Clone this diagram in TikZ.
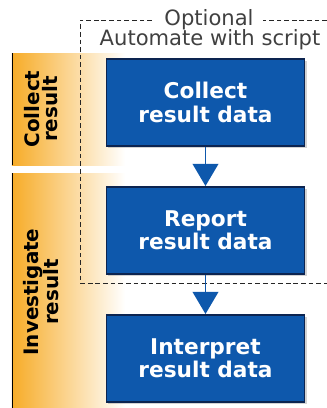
\documentclass[tikz,border=0pt]{standalone}
\usepackage{fontspec}
\setmainfont{DejaVu Sans}
\usetikzlibrary{arrows.meta,shadows}
\definecolor{stepblue}{RGB}{14,88,172}
\definecolor{stepedge}{RGB}{12,36,80}
\definecolor{bandorange}{RGB}{247,172,40}
\begin{document}
\begin{tikzpicture}[x=0.03cm, y=-0.03cm,
    stepbox/.style={draw=stepedge, line width=1.4pt, fill=stepblue, text=white,
      minimum width=5.95cm, minimum height=2.62cm, align=center,
      font=\bfseries\fontsize{18.5}{20}\selectfont,
      drop shadow={shadow xshift=1.8pt, shadow yshift=-1.8pt, opacity=0.35}},
    sidelabel/.style={rotate=90, align=center, font=\bfseries\fontsize{17}{15.5}\selectfont},
    band/.style={left color=bandorange, middle color=bandorange!45, right color=white},
    flow/.style={draw=stepblue, line width=1.6pt, -{Triangle[width=22pt,length=19pt]}}]
  \useasboundingbox (0,0) rectangle (327,408);
  % orange side bands
  \shade[band] (12,53) rectangle (125,165);
  \shade[band] (12,173) rectangle (125,408);
  \draw[line width=0.8pt] (12,53) -- (12,165);
  \draw[line width=0.8pt] (12,173) -- (12,408);
  \node[sidelabel] (collectlbl) at (41,109) {Collect\\result};
  \node[sidelabel] (investlbl) at (41,292) {Investigate\\result};
  % optional part
  \draw[dashed, dash pattern=on 4pt off 2.5pt, line width=0.8pt, black!85]
    (327,20) -- (80,20) -- (80,283) -- (327,283);
  \node[fill=white, inner xsep=8pt, inner ysep=1pt, text=black!75,
    font=\fontsize{18}{20}\selectfont] (optional) at (209,20) {Optional};
  \node[text=black!75, font=\fontsize{18}{20}\selectfont] (automate) at (210,40) {Automate with script};
  % steps
  \foreach \name/\txt/\y in {collect/Collect/102.5, report/Report/230.5, interpret/Interpret/358.5} {
    \node[stepbox] (\name) at (205.5,\y) {\txt\\result data};
  }
  \draw[flow] (collect) -- (report);
  \draw[flow] (report) -- (interpret);
\end{tikzpicture}
\end{document}
